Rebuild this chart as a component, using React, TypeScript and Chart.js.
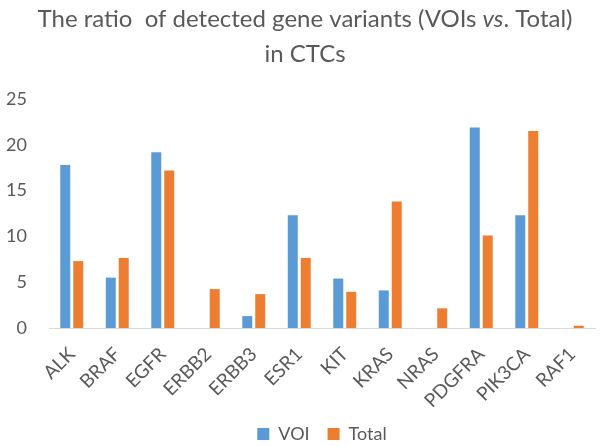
import React, { useEffect, useRef } from "react";
import { Chart, registerables } from "chart.js";

Chart.register(...registerables);

const categories = ["ALK", "BRAF", "EGFR", "ERBB2", "ERBB3", "ESR1", "KIT", "KRAS", "NRAS", "PDGFRA", "PIK3CA", "RAF1"];
const voiValues = [17.8, 5.5, 19.2, 0, 1.3, 12.3, 5.4, 4.1, 0, 21.9, 12.3, 0];
const totalValues = [7.3, 7.65, 17.2, 4.25, 3.7, 7.65, 3.95, 13.8, 2.15, 10.1, 21.5, 0.25];
const titleLine1 = [
  { text: "The ratio  of detected gene variants (VOIs ", italic: false },
  { text: "vs", italic: true },
  { text: ". Total)", italic: false },
];
const titleLine2 = "in CTCs";

const FONT = "Lato, 'Open Sans', sans-serif";
const GREY = "#595959";

const titlePlugin = {
  id: "customTitle",
  afterDraw(chart: any) {
    const ctx = chart.ctx as CanvasRenderingContext2D;
    ctx.save();
    ctx.fillStyle = GREY;
    ctx.textBaseline = "alphabetic";
    ctx.textAlign = "left";
    const size = 24;
    const cx = 305;
    const widths = titleLine1.map((s) => {
      ctx.font = `${s.italic ? "italic " : ""}${size}px ${FONT}`;
      return ctx.measureText(s.text).width;
    });
    const total = widths.reduce((a, b) => a + b, 0);
    let x = cx - total / 2;
    titleLine1.forEach((s, i) => {
      ctx.font = `${s.italic ? "italic " : ""}${size}px ${FONT}`;
      ctx.fillText(s.text, x, 27);
      x += widths[i];
    });
    ctx.font = `${size}px ${FONT}`;
    ctx.textAlign = "center";
    ctx.fillText(titleLine2, cx, 62);
    ctx.restore();
  },
};

export default function App() {
  const ref = useRef<HTMLCanvasElement | null>(null);
  useEffect(() => {
    if (!ref.current) return;
    const chart = new Chart(ref.current, {
      type: "bar",
      data: {
        labels: categories,
        datasets: [
          { label: "VOI", data: voiValues, backgroundColor: "#5B9BD5", barPercentage: 0.77, categoryPercentage: 0.57 },
          { label: "Total", data: totalValues, backgroundColor: "#ED7D31", barPercentage: 0.77, categoryPercentage: 0.57 },
        ],
      },
      options: {
        animation: false,
        responsive: false,
        maintainAspectRatio: false,
        layout: { padding: { left: 4, right: 5, top: 99, bottom: -7 } },
        plugins: {
          title: { display: false },
          legend: {
            position: "bottom",
            fullSize: false,
            labels: {
              color: GREY,
              font: { family: FONT, size: 18 },
              boxWidth: 12,
              boxHeight: 12,
              padding: 18,
            },
          },
          tooltip: { enabled: false },
        },
        scales: {
          x: {
            grid: { display: false, drawTicks: false },
            border: { display: true, color: "#d9d9d9", width: 1 },
            ticks: { color: GREY, font: { family: FONT, size: 19 }, minRotation: 45, maxRotation: 45, padding: 15 },
            afterFit(s: any) {
              s.paddingLeft = 0;
              s.paddingRight = 0;
              s.height = 79;
            },
          },
          y: {
            min: 0,
            max: 25,
            grid: { display: false, drawTicks: false },
            border: { display: false },
            ticks: { stepSize: 5, color: GREY, font: { family: FONT, size: 18 }, padding: 22 },
            afterFit(s: any) {
              s.width = 45;
            },
          },
        },
      },
      plugins: [titlePlugin],
    });
    return () => chart.destroy();
  }, []);
  return (
    <div style={{ position: "fixed", left: 0, top: 0, width: 600, height: 446, background: "#fff" }}>
      <canvas ref={ref} width={600} height={446} style={{ width: 600, height: 446 }} />
    </div>
  );
}
